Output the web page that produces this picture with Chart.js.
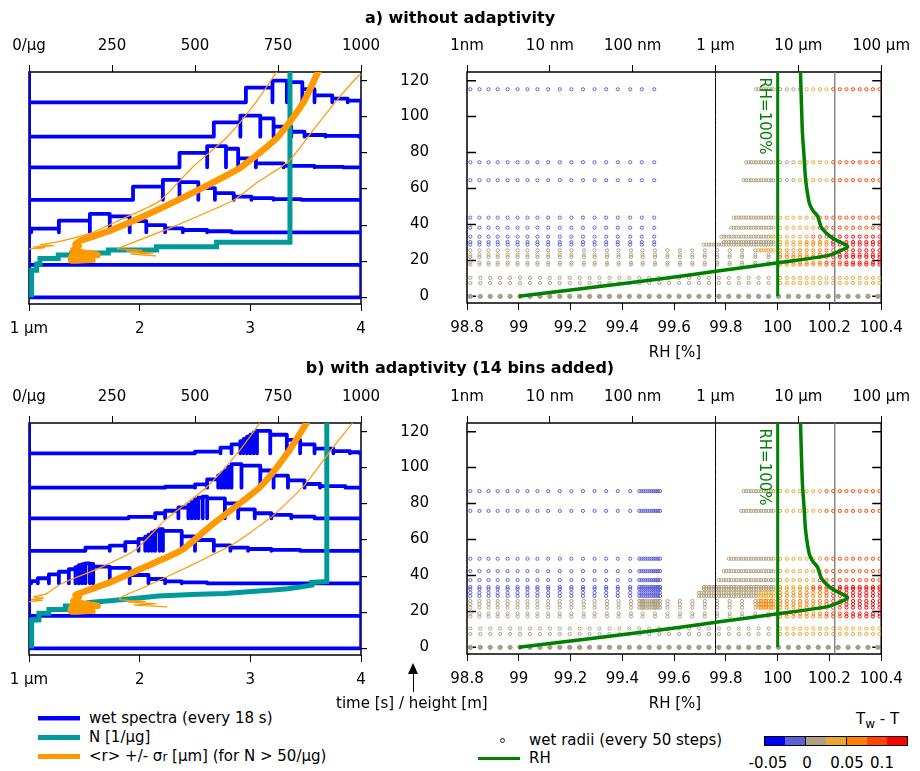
<!DOCTYPE html>
<html><head><meta charset="utf-8">
<script src="https://cdn.jsdelivr.net/npm/chart.js@4.4.1/dist/chart.umd.min.js"></script>
<style>
body{margin:0;background:#fff;width:920px;height:771px;position:relative;overflow:hidden;font-family:"DejaVu Sans",sans-serif;}
canvas{position:absolute;}
.t{position:absolute;white-space:nowrap;font-size:15px;color:#000;line-height:1;z-index:5;}
.b{position:absolute;z-index:5;}
</style></head><body>
<canvas id="la" width="400" height="350" style="left:0;top:0"></canvas>
<canvas id="ra" width="540" height="350" style="left:380px;top:0"></canvas>
<canvas id="lb" width="400" height="350" style="left:0;top:351px"></canvas>
<canvas id="rb" width="540" height="350" style="left:380px;top:351px"></canvas>
<script>
// ---------------- DATA ----------------
const heightTicks = [0, 20, 40, 60, 80, 100, 120];
const radiusTicks = [1, 2, 3, 4];
const radiusTickLabels = ['1 µm', '2', '3', '4'];
const nTicks = [0, 250, 500, 750, 1000];
const nTickLabels = ['0/µg', '250', '500', '750', '1000'];
const rhTicks = [98.8, 99, 99.2, 99.4, 99.6, 99.8, 100, 100.2, 100.4];
const rhTickLabels = ['98.8', '99', '99.2', '99.4', '99.6', '99.8', '100', '100.2', '100.4'];
const wetTicksNm = [1, 10, 100, 1000, 10000, 100000];
const wetTickLabels = ['1nm', '10 nm', '100 nm', '1 µm', '10 µm', '100 µm'];

// wet spectra (every 18 s): baselines [s] and bin edges [µm] / heights
const spectraBase = [0, 18, 36, 54, 72, 89, 108];
const spectraEdgesA = [
  [], [],
  [1.02, 1.27, 1.55, 1.73, 1.91, 2.06, 2.23, 2.39, 2.61, 2.83],
  [1.94, 2.21, 2.36, 2.53, 2.68, 2.85, 3.01, 3.21, 3.46],
  [2.36, 2.61, 2.78, 2.89, 3.05, 3.30, 3.58, 3.84],
  [2.67, 2.91, 3.09, 3.21, 3.37, 3.49, 3.68, 3.98],
  [2.96, 3.20, 3.33, 3.47, 3.58, 3.74, 3.88, 4.0]
];
const spectraValsA = [
  [], [],
  [2.0, 6.5, 10.2, 8.8, 6.2, 4.0, 2.2, 1.3, 0.6],
  [7.3, 11.1, 9.8, 6.5, 3.7, 1.8, 0.9, 0.4],
  [8.0, 11.7, 10.3, 5.0, 2.2, 0.8, 0.3],
  [7.9, 11.6, 10.1, 5.5, 2.7, 0.9, 0.4],
  [8.2, 12.0, 11.2, 7.3, 3.8, 2.0, 1.0]
];
const spectraEdgesB = [
  [], [],
  [1.02, 1.08, 1.18, 1.27, 1.36, 1.42, 1.45, 1.48, 1.51, 1.55, 1.58, 1.73, 1.91, 2.08, 2.23, 2.38, 2.61],
  [1.51, 1.73, 1.87, 1.99, 2.05, 2.08, 2.11, 2.14, 2.18, 2.21, 2.38, 2.50, 2.67, 2.82, 2.98, 3.19, 3.45],
  [1.90, 2.14, 2.23, 2.35, 2.44, 2.47, 2.50, 2.53, 2.57, 2.61, 2.77, 2.89, 3.04, 3.19, 3.37, 3.58],
  [2.23, 2.50, 2.61, 2.71, 2.74, 2.77, 2.80, 2.83, 2.92, 3.09, 3.21, 3.34, 3.49, 3.63, 3.86],
  [2.50, 2.73, 2.83, 2.91, 2.94, 2.97, 3.00, 3.03, 3.06, 3.18, 3.33, 3.45, 3.58, 3.75, 3.90, 3.99]
];
const spectraValsB = [
  [], [],
  [1.2, 2.8, 5.0, 6.4, 7.8, 9.0, 10.0, 10.6, 11.1, 10.8, 9.2, 8.6, 4.6, 2.4, 1.1, 0.5],
  [1.8, 2.9, 4.8, 6.6, 7.8, 9.0, 10.2, 11.2, 12.0, 11.0, 8.0, 6.0, 3.0, 1.8, 1.0, 0.5],
  [0.8, 2.8, 4.2, 6.0, 7.5, 9.0, 10.5, 11.5, 12.0, 11.1, 8.3, 5.0, 2.8, 1.9, 0.9],
  [0.5, 1.8, 4.6, 6.8, 8.2, 9.6, 11.5, 13.0, 12.2, 9.5, 6.7, 4.0, 2.0, 0.8],
  [1.0, 3.2, 5.0, 6.8, 8.0, 9.2, 10.4, 11.5, 12.4, 10.3, 7.4, 5.0, 2.6, 1.2, 0.6]
];

// N [1/µg] vs height
const concA = [8, 8, 23, 23, 33, 33, 88, 88, 129, 129, 239, 239, 384, 384, 565, 565, 786, 786];
const concA_h = [0, 15, 15, 18.5, 18.5, 21.5, 21.5, 23.5, 23.5, 24.5, 24.5, 26.2, 26.2, 28, 28, 30.5, 30.5, 126];
const concB = [8, 8, 30, 30, 60, 60, 110, 110, 150, 150, 189, 300, 390, 490, 590, 691, 780, 852, 852, 897, 897];
const concB_h = [0, 15.7, 15.7, 19.4, 19.4, 21.5, 21.5, 23.5, 23.5, 24.5, 25.5, 27.3, 29, 29.8, 30.4, 31.7, 33, 35, 36.5, 37, 126];

// <r> and <r> +/- sigma [µm] vs height
const meanA   = [1.60, 1.38, 1.40, 1.62, 1.40, 1.45, 1.42, 1.48, 1.69, 1.99, 2.35, 2.79, 2.92, 3.25, 3.48, 3.62];
const meanA_h = [21.0, 20.5, 24.0, 23.5, 26.0, 28.5, 29.5, 31.7, 36, 43.7, 54, 67.7, 72.3, 89, 108, 126];
const plusA   = [1.0, 1.14, 1.04, 1.22, 1.10, 1.28, 1.58, 1.79, 2.18, 2.48, 2.79, 3.05, 3.25];
const plusA_h = [26.8, 27.5, 27.8, 28.6, 29.0, 31.0, 36, 42, 53.4, 72.2, 88.8, 108, 126];
const minusA   = [2.15, 1.92, 2.12, 1.88, 2.02, 1.80, 1.84, 2.30, 2.85, 3.07, 3.35, 3.58, 3.77, 3.98, 4.0];
const minusA_h = [23.0, 24.0, 24.5, 25.5, 26.0, 27.0, 28, 39, 53.9, 64, 75.5, 93.6, 108.3, 123, 123.3];
const meanB   = [1.60, 1.38, 1.40, 1.62, 1.40, 1.45, 1.42, 1.54, 1.73, 2.02, 2.38, 2.65, 3.09, 3.34, 3.52];
const meanB_h = [21.0, 20.5, 24.0, 23.5, 26.0, 28.5, 29.5, 32.3, 36.5, 44.3, 54.4, 68.3, 89.5, 108.5, 126];
const plusB   = [1.0, 1.12, 1.02, 1.13, 1.04, 1.15, 1.30, 1.63, 1.96, 2.23, 2.61, 2.89, 3.10];
const plusB_h = [25.8, 26.6, 27.0, 27.8, 28.6, 30.0, 36, 44.3, 54.4, 71, 89.5, 108.5, 126];
const minusB   = [2.25, 1.95, 2.15, 1.90, 2.05, 1.82, 1.84, 2.05, 2.47, 2.83, 3.01, 3.21, 3.49, 3.74, 3.92, 3.94];
const minusB_h = [23.0, 24.0, 24.6, 25.5, 26.0, 27.0, 28.6, 34.1, 46.1, 57.2, 64.6, 73.8, 90.4, 110.7, 124.6, 126];

// RH [%] vs height
const rhVals = [99.0, 99.544, 99.775, 100.007, 100.187, 100.24, 100.27, 100.21, 100.17, 100.154, 100.135, 100.122, 100.108, 100.102, 100.095, 100.088];
const rhHeights = [0, 9.6, 14.2, 18.8, 22.5, 25.2, 27.7, 32.6, 38.2, 44.6, 48, 52, 65, 77.9, 92.7, 126];

// wet radii grids, log10(r / nm)
const gridDry = [0.04, 0.15, 0.26, 0.37, 0.49, 0.61, 0.73, 0.85, 0.98, 1.12, 1.26, 1.40, 1.54, 1.68, 1.82, 1.97, 2.11, 2.26];
const gridFine = [2.08, 2.105, 2.13, 2.155, 2.18, 2.205, 2.23, 2.255, 2.28, 2.305, 2.33];
const gridMid = [0.04, 0.15, 0.26, 0.37, 0.49, 0.61, 0.73, 0.85, 0.98, 1.12, 1.26, 1.41, 1.54, 1.69, 1.83, 1.98, 2.12, 2.27, 2.42, 2.57, 2.72, 2.87, 3.02, 3.17, 3.32, 3.48, 3.64];
const gridBase = [0.04, 0.16, 0.28, 0.40, 0.52, 0.64, 0.76, 0.88, 1.00, 1.12, 1.24, 1.36, 1.48, 1.60, 1.72, 1.84, 1.96, 2.08, 2.20, 2.32, 2.44, 2.56, 2.68, 2.80, 2.92, 3.04, 3.16, 3.28, 3.40, 3.52, 3.64, 3.76, 3.88, 4.00, 4.12, 4.24, 4.36, 4.48, 4.60, 4.72, 4.84, 4.96];
const gridWet = [2.80, 2.83, 2.86, 2.89, 2.92, 2.95, 2.98, 3.01, 3.04, 3.07, 3.10, 3.13, 3.16, 3.19, 3.22, 3.25, 3.28, 3.31, 3.34, 3.37, 3.40, 3.43, 3.46, 3.49, 3.52, 3.55, 3.58, 3.61, 3.64, 3.67, 3.70,
  3.78, 3.86, 3.94, 4.02, 4.10, 4.18, 4.26, 4.34, 4.42, 4.50, 4.58, 4.66, 4.74, 4.82, 4.90, 4.98];
// Tw - T classes: 0..6 colour bar segments, 7 = initial row
const classColors = ['#0000ff', '#5f5fd8', '#b0a080', '#e8a830', '#ff8000', '#ff4500', '#ff0000', '#a99f88'];
// rows: [height, [[grid, fromIndex, toIndex, class], ...]]
const radiiRowsA = [
  [115.2, [['dry', 0, 17, 1], ['wet', 23, 34, 2], ['wet', 35, 38, 3], ['wet', 39, 46, 5]]],
  [74.6, [['dry', 0, 17, 1], ['wet', 19, 33, 2], ['wet', 34, 38, 3], ['wet', 39, 46, 5]]],
  [64.6, [['dry', 0, 17, 1], ['wet', 18, 33, 2], ['wet', 34, 38, 3], ['wet', 39, 46, 5]]],
  [43.8, [['dry', 0, 17, 1], ['wet', 14, 30, 2], ['wet', 31, 36, 3], ['wet', 37, 46, 5]]],
  [38.2, [['dry', 0, 17, 1], ['wet', 13, 30, 2], ['wet', 31, 36, 3], ['wet', 37, 46, 5]]],
  [33.2, [['dry', 0, 17, 1], ['wet', 9, 28, 2], ['wet', 29, 35, 3], ['wet', 36, 38, 5], ['wet', 39, 46, 6]]],
  [30.2, [['dry', 0, 17, 1], ['wet', 10, 30, 2], ['wet', 31, 34, 3], ['wet', 35, 38, 4], ['wet', 39, 46, 6]]],
  [28.8, [['dry', 0, 17, 1], ['wet', 2, 30, 2], ['wet', 31, 34, 3], ['wet', 35, 38, 4], ['wet', 39, 46, 6]]],
  [25.6, [['mid', 0, 25, 2], ['wet', 24, 30, 3], ['wet', 31, 37, 4], ['wet', 38, 40, 5], ['wet', 41, 46, 6]]],
  [23.2, [['mid', 0, 26, 2], ['wet', 31, 36, 4], ['wet', 37, 39, 5], ['wet', 40, 46, 6]]],
  [21.9, [['mid', 0, 26, 2], ['wet', 31, 36, 4], ['wet', 37, 39, 5], ['wet', 40, 46, 6]]],
  [18.8, [['mid', 0, 26, 2], ['wet', 31, 37, 4], ['wet', 38, 40, 5], ['wet', 41, 46, 6]]],
  [17.7, [['mid', 0, 26, 2], ['wet', 31, 37, 4], ['wet', 38, 40, 5], ['wet', 41, 46, 6]]],
  [10.3, [['base', 0, 30, 2], ['wet', 31, 46, 3]]],
  [7.4, [['base', 0, 30, 2], ['wet', 31, 46, 3]]],
  [0, [['base', 0, 41, 7]]]
];
const radiiRowsB = [
  [86.9, [['dry', 0, 15, 1], ['fine', 0, 10, 1], ['wet', 18, 30, 2], ['wet', 31, 37, 3], ['wet', 38, 46, 5]]],
  [75.9, [['dry', 0, 15, 1], ['fine', 0, 10, 1], ['wet', 17, 30, 2], ['wet', 31, 37, 3], ['wet', 38, 46, 5]]],
  [49.3, [['dry', 0, 15, 1], ['fine', 0, 10, 1], ['wet', 12, 30, 2], ['wet', 31, 37, 3], ['wet', 38, 46, 5]]],
  [42.4, [['dry', 0, 15, 1], ['fine', 0, 10, 1], ['wet', 10, 30, 2], ['wet', 31, 37, 3], ['wet', 38, 46, 5]]],
  [37.4, [['dry', 0, 15, 1], ['fine', 0, 10, 1], ['wet', 8, 30, 2], ['wet', 31, 36, 3], ['wet', 37, 46, 5]]],
  [33.6, [['dry', 0, 15, 1], ['fine', 0, 10, 1], ['wet', 2, 30, 2], ['wet', 31, 35, 3], ['wet', 36, 38, 5], ['wet', 39, 46, 6]]],
  [32.5, [['dry', 0, 15, 1], ['fine', 0, 10, 1], ['wet', 2, 30, 2], ['wet', 31, 35, 3], ['wet', 36, 38, 5], ['wet', 39, 46, 6]]],
  [30.4, [['dry', 0, 15, 1], ['fine', 0, 10, 1], ['wet', 0, 23, 2], ['wet', 24, 30, 3], ['wet', 31, 37, 4], ['wet', 38, 40, 5], ['wet', 41, 46, 6]]],
  [28.6, [['dry', 0, 15, 1], ['fine', 0, 10, 1], ['wet', 0, 23, 2], ['wet', 24, 30, 3], ['wet', 31, 37, 4], ['wet', 38, 40, 5], ['wet', 41, 46, 6]]],
  [25.8, [['mid', 0, 25, 2], ['fine', 0, 10, 2], ['wet', 24, 37, 4], ['wet', 38, 40, 5], ['wet', 41, 46, 6]]],
  [24.0, [['mid', 0, 25, 2], ['fine', 0, 10, 2], ['wet', 24, 37, 4], ['wet', 38, 40, 5], ['wet', 41, 46, 6]]],
  [22.1, [['mid', 0, 25, 2], ['fine', 0, 10, 2], ['wet', 24, 37, 4], ['wet', 38, 40, 5], ['wet', 41, 46, 6]]],
  [18.8, [['mid', 0, 26, 2], ['wet', 31, 37, 4], ['wet', 38, 40, 5], ['wet', 41, 46, 6]]],
  [17.2, [['mid', 0, 26, 2], ['wet', 31, 37, 4], ['wet', 38, 40, 5], ['wet', 41, 46, 6]]],
  [10.5, [['base', 0, 30, 2], ['wet', 31, 46, 3]]],
  [7.4, [['base', 0, 30, 2], ['wet', 31, 46, 3]]],
  [0, [['base', 0, 41, 7]]]
];
const markerRadiiNm = [1000, 27500];

// ---------------- DRAWING ----------------
const grids = {dry: gridDry, fine: gridFine, mid: gridMid, base: gridBase, wet: gridWet};
const FONT = {family: 'DejaVu Sans', size: 15};
const Y_MIN = -3.7, Y_MAX = 124.8;

function pairs(xs, ys) { return xs.map((x, i) => ({x, y: ys[i]})); }
function spectrumPath(base, edges, vals) {
  const p = [{x: 1, y: base}];
  for (let i = 0; i < vals.length; i++) {
    p.push({x: edges[i], y: base}, {x: edges[i], y: base + vals[i]}, {x: edges[i + 1], y: base + vals[i]}, {x: edges[i + 1], y: base});
  }
  p.push({x: 4, y: base});
  return p;
}
function hAxis(pos, type, min, max, vals, labels, height) {
  return {
    type, position: pos, min, max,
    afterBuildTicks: s => { s.ticks = vals.map(v => ({value: v})); },
    afterFit: s => { s.height = height; },
    ticks: {autoSkip: false, maxRotation: 0, minRotation: 0, font: FONT, color: '#000',
      padding: pos === 'top' ? 10 : 9, callback: (v, i) => labels[i]},
    grid: {drawOnChartArea: false, drawTicks: true, tickLength: 7, color: '#000', lineWidth: 1},
    border: {display: false}
  };
}
const framePlugin = {
  id: 'frame',
  beforeDatasetsDraw(chart, args, opts) {
    const {ctx, chartArea: a} = chart;
    ctx.save();
    ctx.strokeStyle = '#000'; ctx.lineWidth = 1.5;
    ctx.strokeRect(a.left, a.top, a.right - a.left, a.bottom - a.top);
    if (opts && opts.inner) {
      const ys = chart.scales.y;
      ctx.lineWidth = 1.5;
      heightTicks.forEach(v => {
        const p = ys.getPixelForValue(v);
        ctx.beginPath();
        ctx.moveTo(a.left, p); ctx.lineTo(a.left + 9, p);
        ctx.moveTo(a.right - 9, p); ctx.lineTo(a.right, p);
        ctx.stroke();
      });
    }
    ctx.restore();
  }
};
function lineDs(data, color, width, order, xAxisID) {
  return {data, showLine: true, borderColor: color, borderWidth: width, pointRadius: 0,
    fill: false, tension: 1e-6, order, xAxisID: xAxisID || 'x', yAxisID: 'y', borderJoinStyle: 'miter'};
}
function leftChart(id, edgesArr, valsArr, conc, concH, mean, meanH, plus, plusH, minus, minusH) {
  const ds = [];
  spectraBase.forEach((b, k) => {
    const s = lineDs(spectrumPath(b, edgesArr[k], valsArr[k]), '#0000ff', 3.8, 4);
    s.borderJoinStyle = 'round';
    ds.push(s);
  });
  ds.push(lineDs(pairs([1, 1], [0, Y_MAX + 2]), '#0000ff', 4, 4));
  ds.push(lineDs(pairs([4, 4], [0, spectraBase[spectraBase.length - 1]]), '#0000ff', 3.5, 4));
  ds.push(lineDs(pairs(conc, concH), '#009a9a', 5, 3, 'x2'));
  const m = lineDs(pairs(mean, meanH), '#ff9900', 6.5, 1); m.borderJoinStyle = 'round'; m.tension = 0.2;
  ds.push(m);
  const p = lineDs(pairs(plus, plusH), '#ff9900', 1.2, 2); p.tension = 0.2; ds.push(p);
  const q = lineDs(pairs(minus, minusH), '#ff9900', 1.2, 2); q.tension = 0.2; ds.push(q);
  new Chart(document.getElementById(id), {
    type: 'scatter',
    data: {datasets: ds},
    options: {
      responsive: false, animation: false, devicePixelRatio: 1, events: [],
      layout: {padding: {left: 29, right: 0, top: 0, bottom: 0}},
      plugins: {legend: {display: false}, tooltip: {enabled: false}, frame: {inner: false}},
      scales: {
        x: hAxis('bottom', 'linear', 1, 4, radiusTicks, radiusTickLabels, 46),
        x2: hAxis('top', 'linear', 0, 1000, nTicks, nTickLabels, 72),
        y: {type: 'linear', position: 'right', min: Y_MIN, max: Y_MAX,
          afterBuildTicks: s => { s.ticks = heightTicks.map(v => ({value: v})); },
          afterFit: s => { s.width = 39; },
          ticks: {display: false},
          grid: {drawOnChartArea: false, drawTicks: true, tickLength: 6, color: '#000', lineWidth: 1.2},
          border: {display: false}}
      }
    },
    plugins: [framePlugin]
  });
}
function rightChart(id, rows) {
  const byCls = {};
  rows.forEach(([h, segs]) => segs.forEach(([g, i0, i1, c]) => {
    for (let i = i0; i <= i1; i++) (byCls[c] = byCls[c] || []).push({x: Math.pow(10, grids[g][i]), y: h});
  }));
  const ds = Object.keys(byCls).map(c => ({
    data: byCls[c], xAxisID: 'x2', yAxisID: 'y', showLine: false,
    pointRadius: c == 7 ? 2.2 : 1.6, pointBorderWidth: 1, pointBorderColor: classColors[c],
    pointBackgroundColor: c == 7 ? classColors[c] : 'rgba(0,0,0,0)', order: 6
  }));
  ds.push(lineDs(pairs([markerRadiiNm[0], markerRadiiNm[0]], [Y_MIN, Y_MAX]), '#000', 1, 4, 'x2'));
  ds.push(lineDs(pairs([markerRadiiNm[1], markerRadiiNm[1]], [Y_MIN, Y_MAX]), '#777', 1.3, 4, 'x2'));
  ds.push(lineDs(pairs([100, 100], [0, Y_MAX + 2]), '#008000', 3, 2));
  const rh = lineDs(pairs(rhVals, rhHeights), '#008000', 3.5, 1); rh.tension = 0.25; rh.borderJoinStyle = 'round';
  ds.push(rh);
  new Chart(document.getElementById(id), {
    type: 'scatter',
    data: {datasets: ds},
    options: {
      responsive: false, animation: false, devicePixelRatio: 1, events: [],
      layout: {padding: {left: 0, right: 38, top: 0, bottom: 0}},
      plugins: {legend: {display: false}, tooltip: {enabled: false}, frame: {inner: true}},
      scales: {
        x: hAxis('bottom', 'linear', 98.8, 100.4, rhTicks, rhTickLabels, 46),
        x2: hAxis('top', 'logarithmic', 1, 100000, wetTicksNm, wetTickLabels, 72),
        y: {type: 'linear', position: 'left', min: Y_MIN, max: Y_MAX,
          afterBuildTicks: s => { s.ticks = heightTicks.map(v => ({value: v})); },
          afterFit: s => { s.width = 87; },
          ticks: {font: FONT, color: '#000', padding: 38, callback: v => String(v)},
          grid: {display: false, drawTicks: false},
          border: {display: false}}
      }
    },
    plugins: [framePlugin]
  });
}
leftChart('la', spectraEdgesA, spectraValsA, concA, concA_h, meanA, meanA_h, plusA, plusA_h, minusA, minusA_h);
rightChart('ra', radiiRowsA);
leftChart('lb', spectraEdgesB, spectraValsB, concB, concB_h, meanB, meanB_h, plusB, plusB_h, minusB, minusB_h);
rightChart('rb', radiiRowsB);

// ---------------- TEXT / LEGEND ----------------
function txt(html, x, y, align, extra) {
  const d = document.createElement('div');
  d.className = 't';
  d.innerHTML = html;
  d.style.left = x + 'px'; d.style.top = y + 'px';
  d.style.transform = align === 'c' ? 'translate(-50%,-50%)' : 'translate(0,-50%)';
  if (extra) Object.assign(d.style, extra);
  document.body.appendChild(d);
  return d;
}
function box(x, y, w, h, style) {
  const d = document.createElement('div');
  d.className = 'b';
  Object.assign(d.style, {left: x + 'px', top: y + 'px', width: w + 'px', height: h + 'px'}, style || {});
  document.body.appendChild(d);
  return d;
}
txt('a) without adaptivity', 460, 18, 'c', {fontWeight: 'bold', fontSize: '16px'});
txt('b) with adaptivity (14 bins added)', 460, 368, 'c', {fontWeight: 'bold', fontSize: '16px'});
txt('RH [%]', 675, 352, 'c');
txt('RH [%]', 675, 703, 'c');
txt('RH=100%', 764, 116, 'c', {color: '#008000', transform: 'translate(-50%,-50%) rotate(90deg)'});
txt('RH=100%', 764, 467, 'c', {color: '#008000', transform: 'translate(-50%,-50%) rotate(90deg)'});
txt('time [s] / height [m]', 336, 703, 'l');
box(412.5, 672, 1.5, 20, {background: '#000'});
box(408, 663, 0, 0, {borderLeft: '5.25px solid transparent', borderRight: '5.25px solid transparent', borderBottom: '11px solid #000'});

box(38, 716, 42, 4, {background: '#0000ff', boxShadow: '0 1px 0 #8a8aff'});
txt('wet spectra (every 18 s)', 89, 718, 'l');
box(38, 734.5, 42, 5, {background: '#009a9a'});
txt('N [1/µg]', 89, 737, 'l');
box(38, 753.5, 42, 5, {background: '#ff9900'});
txt('&lt;r&gt; +/- σ<span style="font-size:12px">r</span> [µm] (for N &gt; 50/µg)', 89, 756, 'l');
box(499.5, 737.5, 5, 5, {border: '1px solid #222', borderRadius: '50%', boxSizing: 'border-box'});
txt('wet radii (every 50 steps)', 529, 740, 'l');
box(478, 756.5, 42, 3, {background: '#008000'});
txt('RH', 529, 758, 'l');

const cb = box(764, 736, 144, 10, {display: 'flex', border: '1px solid #000', boxSizing: 'border-box'});
classColors.slice(0, 7).forEach((c, i) => {
  const s = document.createElement('div');
  s.style.flex = '1'; s.style.background = c;
  if (i === 2 || i === 4) s.style.borderLeft = '1.5px solid #000';
  cb.appendChild(s);
});
txt('-0.05', 768, 763, 'c');
txt('0', 807, 763, 'c');
txt('0.05', 847, 763, 'c');
txt('0.1', 882, 763, 'c');
txt('T<sub style="font-size:12px">w</sub> - T', 856, 721, 'l');
</script>
</body></html>
